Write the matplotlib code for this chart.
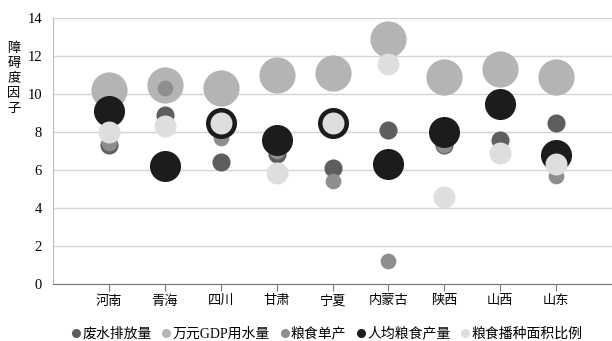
import numpy as np
import matplotlib.pyplot as plt

plt.rcParams['font.family'] = ['Liberation Serif', 'Noto Sans CJK SC']

provinces = ['河南', '青海', '四川', '甘肃', '宁夏', '内蒙古', '陕西', '山西', '山东']

wastewater = [7.3, 8.9, 6.4, 6.85, 6.1, 8.1, 7.3, 7.6, 8.5]        # 废水排放量
water_per_gdp = [10.2, 10.5, 10.3, 11.0, 11.1, 12.9, 10.9, 11.3, 10.9]  # 万元GDP用水量
grain_yield = [7.4, 10.3, 7.7, 7.0, 5.4, 1.2, 7.3, 7.0, 5.7]        # 粮食单产
grain_per_capita = [9.1, 6.2, 8.5, 7.6, 8.45, 6.3, 8.0, 9.5, 6.8]   # 人均粮食产量
sown_area_ratio = [8.0, 8.3, 8.5, 5.85, 8.5, 11.6, 4.6, 6.9, 6.3]   # 粮食播种面积比例

series = [
    ('废水排放量', wastewater, '#5e5e5e', 170),
    ('万元GDP用水量', water_per_gdp, '#b4b4b4', 680),
    ('粮食单产', grain_yield, '#8e8e8e', 128),
    ('人均粮食产量', grain_per_capita, '#1c1c1c', 500),
    ('粮食播种面积比例', sown_area_ratio, '#dedede', 250),
]

fig = plt.figure(figsize=(6.12, 3.41), dpi=100)
ax = fig.add_axes([53 / 612, 1 - 284 / 341, 1 - 53 / 612, 266 / 341])

x = np.arange(1, len(provinces) + 1)
handles = []
for i, (name, vals, color, size) in enumerate(series):
    ax.scatter(x, vals, s=size, color=color, linewidths=0, zorder=3 + i)
    h, = ax.plot([], [], 'o', color=color, markersize=5.5, label=name)
    handles.append(h)

ax.set_xlim(0, 10)
ax.set_ylim(0, 14)
ax.set_yticks(np.arange(0, 15, 2))
ax.set_xticks(x)
ax.set_xticklabels(provinces)
ax.grid(axis='y', color='#d4d4d4', linewidth=1)
ax.set_axisbelow(True)

for side in ['top', 'right']:
    ax.spines[side].set_visible(False)
ax.spines['bottom'].set_color('#777777')
ax.spines['left'].set_color('#bbbbbb')
ax.tick_params(axis='x', length=5, color='#777777', labelsize=9.5, pad=3)
ax.tick_params(axis='y', length=0, labelsize=10.5, pad=8)

# vertical axis title, one character per row
for k, ch in enumerate('障碍度因子'):
    fig.text(14 / 612, 1 - (49 + 15 * k) / 341, ch, ha='center', va='center',
             fontsize=9.5)

fig.legend(handles=handles, loc='center', bbox_to_anchor=(0.534, 0.022), ncol=5,
           frameon=False, fontsize=10, handletextpad=0.1, columnspacing=0.7,
           handlelength=0.7, borderaxespad=0, borderpad=0)

fig.savefig('out.png', dpi=100)
